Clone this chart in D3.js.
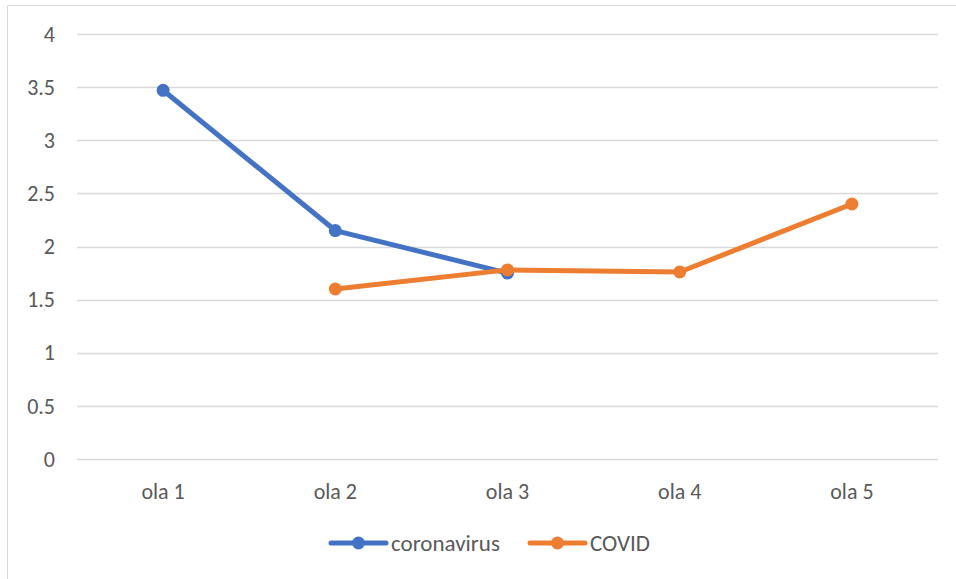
<!DOCTYPE html>
<html>
<head>
<meta charset="utf-8">
<script src="https://cdn.jsdelivr.net/npm/d3@7"></script>
<style>
  body { margin: 0; background: #fff; }
  svg { display: block; font-family: Carlito, Lato, "Open Sans", sans-serif; }
</style>
</head>
<body>
<svg id="chart" width="956" height="579"></svg>
<script>
(function () {
    'use strict';

    const categories = ["ola 1", "ola 2", "ola 3", "ola 4", "ola 5"];
    const coronavirus = [3.47, 2.15, 1.75, null, null];
    const covid = [null, 1.6, 1.78, 1.76, 2.4];
    const yTicks = [0, 0.5, 1, 1.5, 2, 2.5, 3, 3.5, 4];
    const seriesNames = ["coronavirus", "COVID"];
    const seriesColors = ["#4472C4", "#ED7D31"];

    const svg = d3.select("#chart");

    // chart frame (only top and left edges show in the crop)
    svg.append("line").attr("x1", 7.5).attr("x2", 956).attr("y1", 5.5).attr("y2", 5.5)
        .attr("stroke", "#d9d9d9");
    svg.append("line").attr("x1", 7.5).attr("x2", 7.5).attr("y1", 5.5).attr("y2", 579)
        .attr("stroke", "#d9d9d9");

    const left = 77, right = 938, top = 34, bottom = 459;

    var x = d3.scaleBand().domain(categories).range([left, right]);
    var y = d3.scaleLinear().domain([0, 4]).range([bottom, top]);

    // gridlines
    svg.append("g").selectAll("line").data(yTicks).join("line")
        .attr("x1", left).attr("x2", right)
        .attr("y1", d => Math.round(y(d)) + 0.5).attr("y2", d => Math.round(y(d)) + 0.5)
        .attr("stroke", "#d9d9d9").attr("stroke-width", 1.3);

    // y labels
    svg.append("g").selectAll("text").data(yTicks).join("text")
        .attr("x", 55).attr("y", d => y(d))
        .attr("dy", "0.35em").attr("text-anchor", "end")
        .attr("fill", "#595959").style("font-size", "22px")
        .text(d => d);

    // x labels
    svg.append("g").selectAll("text").data(categories).join("text")
        .attr("x", d => x(d) + x.bandwidth() / 2).attr("y", 491)
        .attr("dy", "0.35em").attr("text-anchor", "middle")
        .attr("fill", "#595959").style("font-size", "22px")
        .text(d => d);

    var line = d3.line()
        .defined(d => d.v != null)
        .x(d => x(d.c) + x.bandwidth() / 2)
        .y(d => y(d.v));

    [coronavirus, covid].forEach(function (vals, i) {
        let pts = vals.map((v, j) => ({ c: categories[j], v: v }));
        let g = svg.append("g");
        g.append("path").datum(pts).attr("d", line)
            .attr("fill", "none").attr("stroke", seriesColors[i])
            .attr("stroke-width", 5).attr("stroke-linejoin", "round").attr("stroke-linecap", "round");
        g.selectAll("circle").data(pts.filter(d => d.v != null)).join("circle")
            .attr("cx", d => x(d.c) + x.bandwidth() / 2).attr("cy", d => y(d.v))
            .attr("r", 6.5).attr("fill", seriesColors[i]);
    });

    // legend
    var legendX = [331, 530];
    seriesNames.forEach(function (name, i) {
        let g = svg.append("g").attr("transform", `translate(${legendX[i]},543)`);
        g.append("line").attr("x1", 0).attr("x2", 55).attr("y1", 0).attr("y2", 0)
            .attr("stroke", seriesColors[i]).attr("stroke-width", 5).attr("stroke-linecap", "round");
        g.append("circle").attr("cx", 27.5).attr("cy", 0).attr("r", 6.5).attr("fill", seriesColors[i]);
        g.append("text").attr("x", 60).attr("y", 0).attr("dy", "0.35em")
            .attr("fill", "#595959").style("font-size", "23px").text(name);
    });
})();
</script>
</body>
</html>
